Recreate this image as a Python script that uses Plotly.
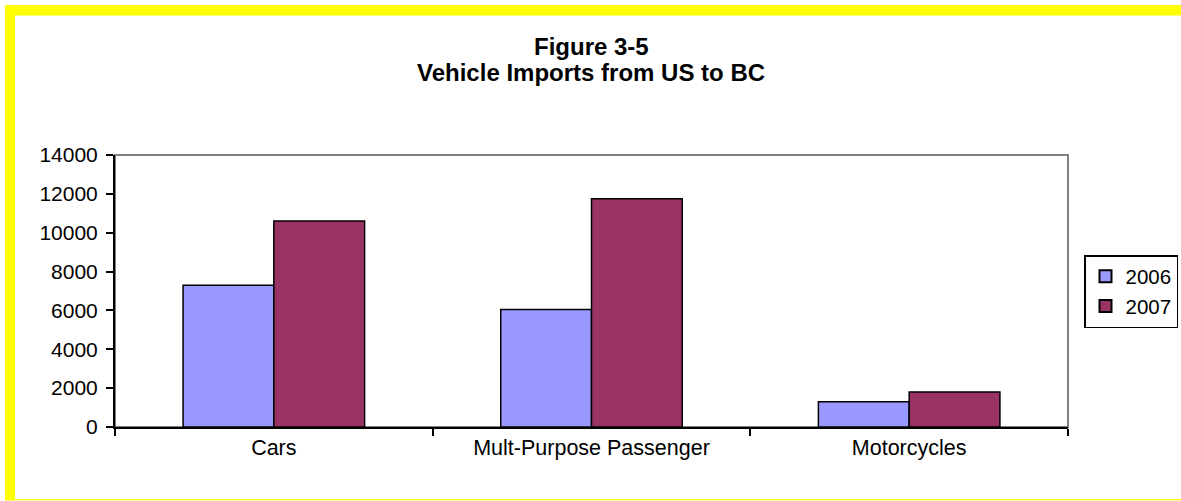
import plotly.graph_objects as go

# Vehicle import counts by category and year
categories = ["Cars", "Mult-Purpose Passenger", "Motorcycles"]
imports_2006 = [7300, 6050, 1300]
imports_2007 = [10600, 11750, 1800]
series_names = ["2006", "2007"]
y_ticks = [0, 2000, 4000, 6000, 8000, 10000, 12000, 14000]
y_tick_labels = [str(v) for v in y_ticks]
title_lines = ["Figure 3-5", "Vehicle Imports from US to BC"]

W, H = 1181, 501
PLOT_L, PLOT_R, PLOT_T, PLOT_B = 115, 1068, 155, 427
FONT = "Arial, Liberation Sans, sans-serif"


def px_x(x):
    return (x - PLOT_L) / (PLOT_R - PLOT_L)


def px_y(y):
    return (PLOT_B - y) / (PLOT_B - PLOT_T)


fig = go.Figure()
fig.add_trace(go.Bar(
    x=categories, y=imports_2006, name=series_names[0],
    marker=dict(color="#9999FF", line=dict(color="black", width=1.5)),
))
fig.add_trace(go.Bar(
    x=categories, y=imports_2007, name=series_names[1],
    marker=dict(color="#993366", line=dict(color="black", width=1.5)),
))

shapes = [
    # plot-area frame (gray top/right edges)
    dict(type="rect", xref="paper", yref="paper", x0=0, x1=1, y0=0, y1=1,
         line=dict(color="#808080", width=2), layer="below"),
    # yellow page frame: left, top and bottom bands
    dict(type="rect", xref="paper", yref="paper",
         x0=px_x(5), x1=px_x(15), y0=px_y(500.3), y1=px_y(5),
         fillcolor="#FFFF00", line=dict(width=0)),
    dict(type="rect", xref="paper", yref="paper",
         x0=px_x(5), x1=px_x(1200), y0=px_y(15.5), y1=px_y(5),
         fillcolor="#FFFF00", line=dict(width=0)),
    dict(type="rect", xref="paper", yref="paper",
         x0=px_x(5), x1=px_x(1200), y0=px_y(500.3), y1=px_y(499),
         fillcolor="#FFFF00", line=dict(width=0)),
]

annotations = [
    dict(text="<b>%s</b>" % title_lines[0], xref="paper", yref="paper",
         x=px_x(591), y=px_y(46), showarrow=False,
         font=dict(family=FONT, size=24, color="black"),
         xanchor="center", yanchor="middle"),
    dict(text="<b>%s</b>" % title_lines[1], xref="paper", yref="paper",
         x=px_x(591), y=px_y(73), showarrow=False,
         font=dict(family=FONT, size=24, color="black"),
         xanchor="center", yanchor="middle"),
]

fig.update_layout(
    width=W, height=H,
    margin=dict(l=PLOT_L, r=W - PLOT_R, t=PLOT_T, b=H - PLOT_B,
                autoexpand=False),
    paper_bgcolor="white", plot_bgcolor="white",
    font=dict(family=FONT, size=21, color="black"),
    barmode="group", bargap=1.5 / 3.5, bargroupgap=0,
    showlegend=True,
    legend=dict(
        x=px_x(1084), y=px_y(291.5), xanchor="left", yanchor="middle",
        bordercolor="black", borderwidth=1.5, bgcolor="white",
        font=dict(family=FONT, size=20.5, color="black"),
        itemsizing="constant", tracegroupgap=0, itemwidth=30,
    ),
    shapes=shapes,
    annotations=annotations,
    xaxis=dict(
        showline=True, linecolor="black", linewidth=2,
        ticks="outside", tickson="boundaries", ticklen=7, tickwidth=2,
        tickcolor="black", showgrid=False, zeroline=False,
        tickfont=dict(family=FONT, size=21.5),
    ),
    yaxis=dict(
        range=[0, 14000], tickvals=y_ticks, ticktext=y_tick_labels,
        showline=True, linecolor="black", linewidth=2,
        ticks="outside", ticklen=7, tickwidth=2, tickcolor="black",
        showgrid=False, zeroline=False,
        tickfont=dict(family=FONT, size=21),
        ticklabelstandoff=4,
    ),
)

fig.write_html("out.html")
